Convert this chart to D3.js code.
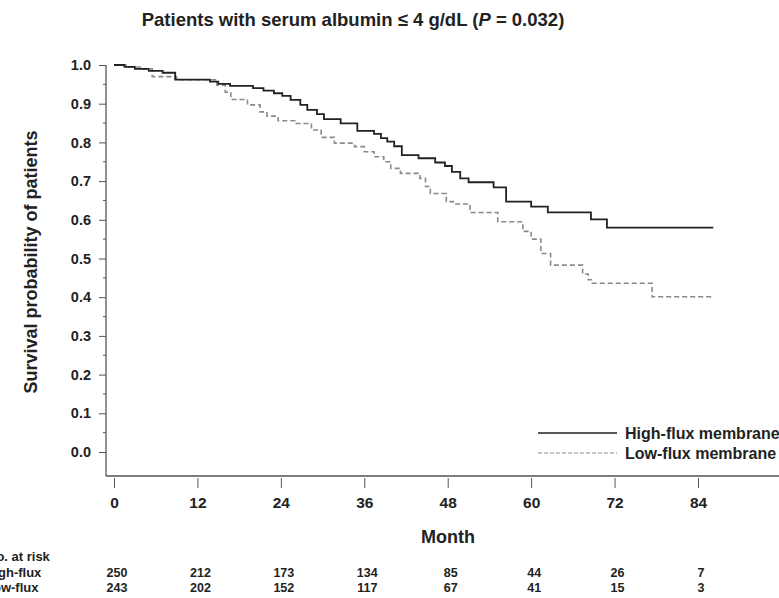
<!DOCTYPE html>
<html>
<head>
<meta charset="utf-8">
<script src="https://cdn.jsdelivr.net/npm/d3@7"></script>
<style>
  body { margin: 0; background: #fff; }
  svg text { font-family: "Liberation Sans", Arial, sans-serif; font-weight: bold; fill: #222; }
</style>
</head>
<body>
<svg id="chart" width="779" height="598"></svg>
<script>
// Kaplan-Meier steps (month, survival)
var highTime = [0, 1.5, 3, 5, 7, 8.8, 13.8, 15, 16.7, 20, 21.5, 23, 24.2, 25.4, 26.8, 27.8, 29.2, 30.2, 32.6, 35, 37.4, 38.4, 39.3, 40.3, 41.4, 43.8, 46.2, 47.6, 48.6, 49.8, 51, 54.6, 56.4, 60, 62.4, 68.6, 70.9, 86.2];
var highSurv = [1.0, 0.995, 0.99, 0.985, 0.98, 0.962, 0.957, 0.951, 0.946, 0.940, 0.934, 0.927, 0.920, 0.910, 0.897, 0.884, 0.873, 0.860, 0.849, 0.830, 0.822, 0.811, 0.802, 0.790, 0.767, 0.759, 0.748, 0.739, 0.724, 0.707, 0.697, 0.684, 0.647, 0.634, 0.619, 0.601, 0.580, 0.580];
var lowTime = [0, 2, 4, 5.5, 9, 14.8, 16, 16.8, 19.2, 21, 22, 23.6, 26, 28.4, 29.8, 31.7, 34.6, 36, 37.4, 38.8, 39.8, 41.2, 44, 44.8, 45.5, 47.8, 48.8, 51.2, 55.2, 58.8, 60, 61.4, 62.8, 67.4, 68.2, 68.8, 77.4, 86.2];
var lowSurv = [1.0, 0.995, 0.99, 0.97, 0.962, 0.948, 0.93, 0.911, 0.897, 0.879, 0.868, 0.856, 0.849, 0.832, 0.813, 0.798, 0.789, 0.776, 0.763, 0.75, 0.733, 0.72, 0.707, 0.686, 0.668, 0.647, 0.641, 0.619, 0.595, 0.57, 0.55, 0.513, 0.483, 0.46, 0.445, 0.436, 0.401, 0.401];

// number at risk table
var riskMonths = [0, 12, 24, 36, 48, 60, 72, 84];
var riskHigh = [250, 212, 173, 134, 85, 44, 26, 7];
var riskLow = [243, 202, 152, 117, 67, 41, 15, 3];
var yTicks = [0, 0.1, 0.2, 0.3, 0.4, 0.5, 0.6, 0.7, 0.8, 0.9, 1.0];
var legendNames = ["High-flux membrane", "Low-flux membrane"];
var rowNames = ["High-flux", "Low-flux"];

var svg = d3.select("#chart");
var axisColor = "#555";

var x = d3.scaleLinear().domain([0, 84]).range([114, 698]);
var y = d3.scaleLinear().domain([0, 1]).range([452, 65]);

//title
svg.append("text")
  .attr("x", 353).attr("y", 26)
  .attr("text-anchor", "middle")
  .style("font-size", "18.5px")
  .html('Patients with serum albumin ≤ 4 g/dL (<tspan font-style="italic">P</tspan> = 0.032)');

//spines
svg.append("line").attr("x1", 106).attr("x2", 106).attr("y1", y(1)).attr("y2", 476)
  .attr("stroke", axisColor).attr("stroke-width", 1.3);
svg.append("line").attr("x1", 106).attr("x2", 779).attr("y1", 476).attr("y2", 476)
  .attr("stroke", axisColor).attr("stroke-width", 1.3);

//y axis
var yAxis = svg.append("g")
  .attr("transform", "translate(106,0)")
  .call(d3.axisLeft(y).tickValues(yTicks).tickSize(7).tickPadding(8).tickFormat(d3.format(".1f")));
yAxis.select(".domain").remove();
yAxis.selectAll("line").attr("stroke", axisColor);
yAxis.selectAll("text").style("font-size", "14.5px").attr("fill", "#222").attr("font-family", null);
// minor ticks
svg.append("g").selectAll("line")
  .data(d3.range(0.05, 1, 0.1))
  .enter().append("line")
    .attr("x1", 103).attr("x2", 106)
    .attr("y1", function(d) { return y(d); })
    .attr("y2", function(d) { return y(d); })
    .attr("stroke", axisColor);

//x axis
var xAxis = svg.append("g")
  .attr("transform", "translate(0,478)")
  .call(d3.axisBottom(x).tickValues(riskMonths).tickSize(10).tickPadding(9));
xAxis.select(".domain").remove();
xAxis.selectAll("line").attr("stroke", axisColor);
xAxis.selectAll("text").style("font-size", "15.5px").attr("fill", "#222").attr("font-family", null);

//axis titles
svg.append("text")
  .attr("x", 448).attr("y", 543)
  .attr("text-anchor", "middle")
  .style("font-size", "18px")
  .text("Month");
svg.append("text")
  .attr("transform", "translate(37,262) rotate(-90)")
  .attr("text-anchor", "middle")
  .style("font-size", "18px")
  .text("Survival probability of patients");

//curves
var line = d3.line()
  .x(function(d) { return x(d[0]); })
  .y(function(d) { return y(d[1]); })
  .curve(d3.curveStepAfter);

svg.append("path")
  .datum(d3.zip(lowTime, lowSurv))
  .attr("d", line)
  .attr("fill", "none")
  .attr("stroke", "#8a8a8a")
  .attr("stroke-width", 1.6)
  .attr("stroke-dasharray", "5,3");
svg.append("path")
  .datum(d3.zip(highTime, highSurv))
  .attr("d", line)
  .attr("fill", "none")
  .attr("stroke", "#222")
  .attr("stroke-width", 1.8);

//legend
var legend = svg.append("g");
legendNames.forEach(function(name, i) {
  var ly = 433 + i * 20;
  legend.append("line")
    .attr("x1", 538).attr("x2", 617).attr("y1", ly).attr("y2", ly)
    .attr("stroke", i == 0 ? "#222" : "#8a8a8a")
    .attr("stroke-width", i == 0 ? 1.6 : 1.2)
    .attr("stroke-dasharray", i == 0 ? null : "4,2");
  legend.append("text")
    .attr("x", 625).attr("y", ly + 5.5)
    .style("font-size", "16px")
    .text(name);
});

//number at risk
svg.append("text").attr("x", -13).attr("y", 561).style("font-size", "13px").text("No. at risk");
[riskHigh, riskLow].forEach(function(row, r) {
  var ry = 577 + r * 15;
  svg.append("text").attr("x", -15).attr("y", ry).style("font-size", "13px").text(rowNames[r]);
  svg.append("g").selectAll("text")
    .data(row)
    .enter().append("text")
      .attr("x", function(d, i) { return x(riskMonths[i]) + 3; })
      .attr("y", ry)
      .attr("text-anchor", "middle")
      .style("font-size", "12.5px")
      .text(function(d) { return d; });
});
</script>
</body>
</html>
